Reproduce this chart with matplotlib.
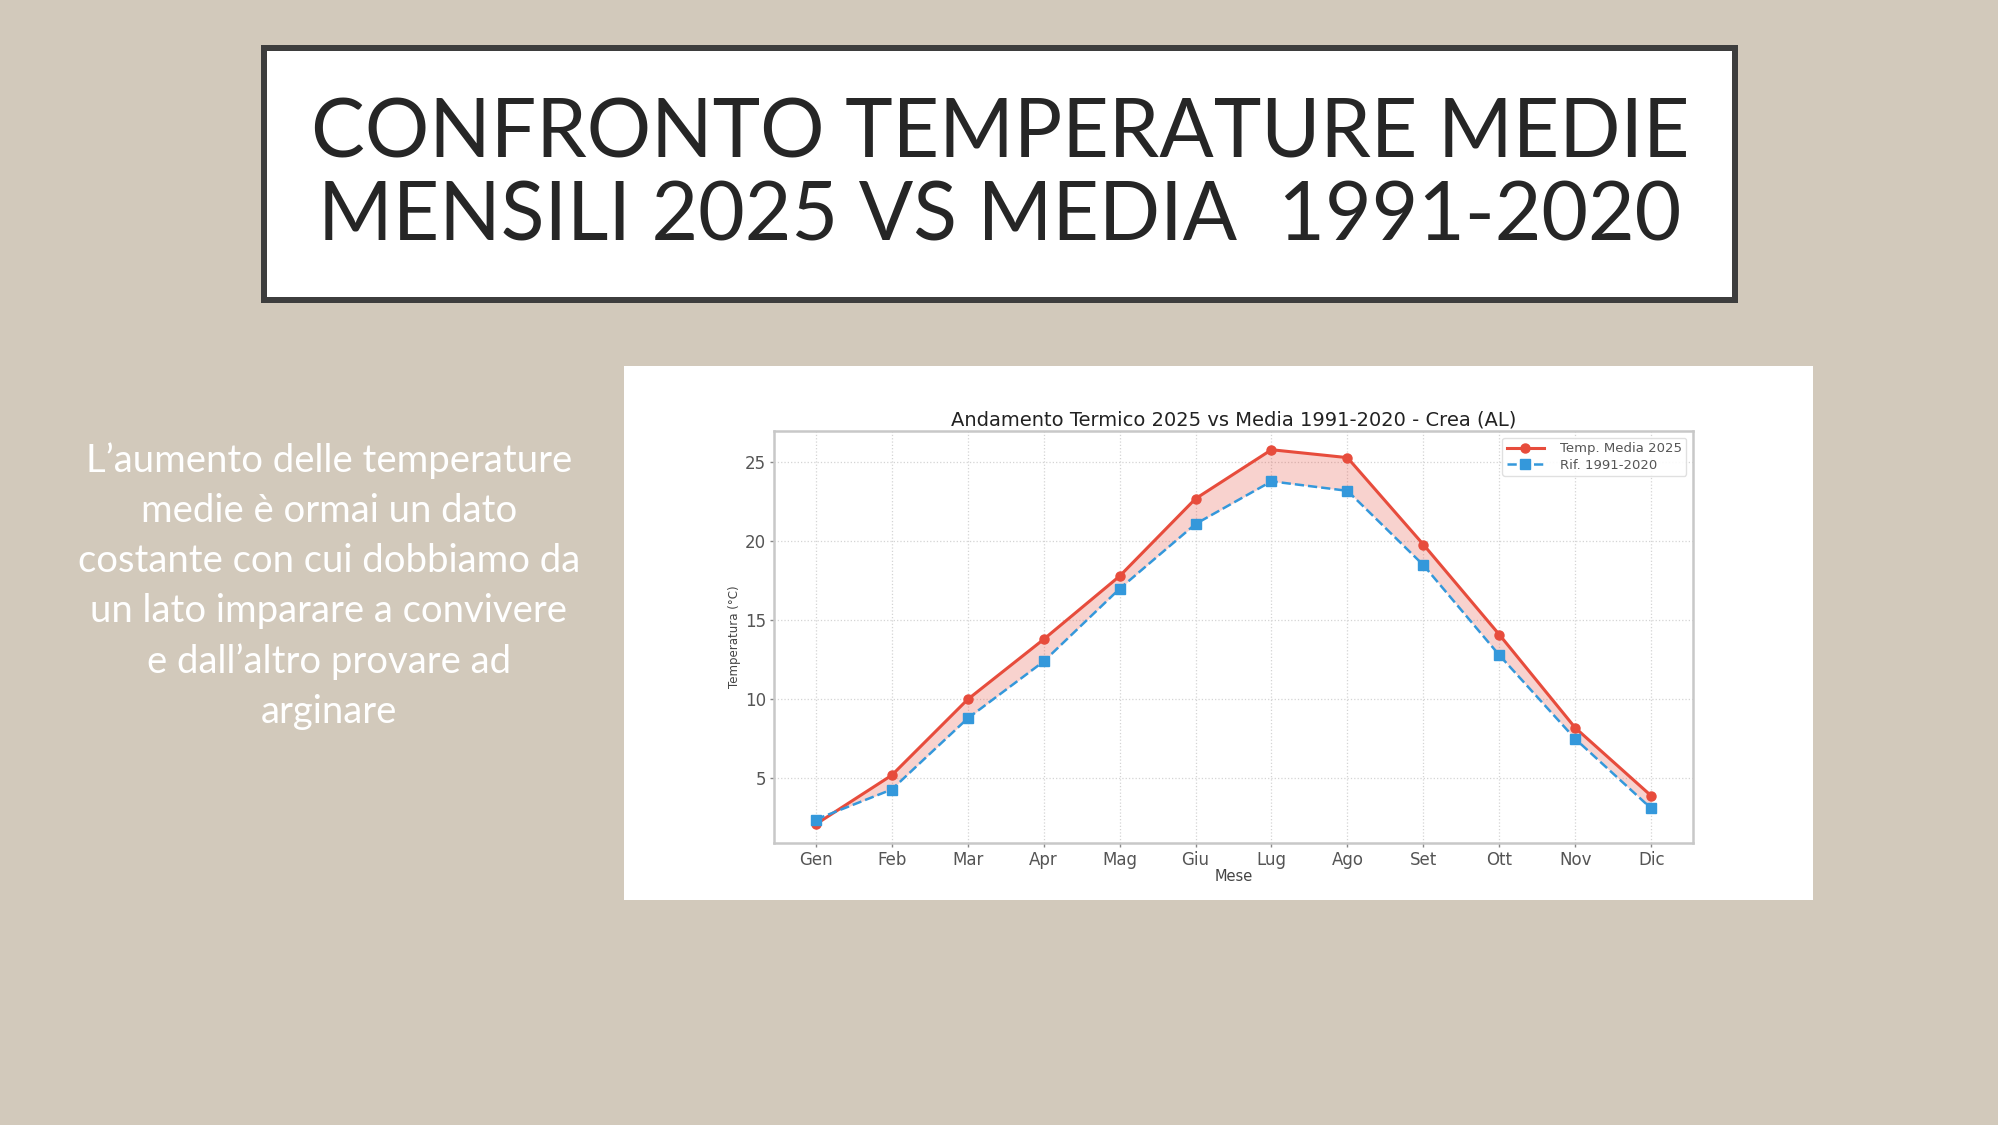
import matplotlib
matplotlib.use("Agg")
import matplotlib.pyplot as plt
from matplotlib.patches import Rectangle
import numpy as np

W, H = 1999, 1125

months = ['Gen', 'Feb', 'Mar', 'Apr', 'Mag', 'Giu', 'Lug', 'Ago', 'Set', 'Ott', 'Nov', 'Dic']
temp_2025 = [2.1, 5.2, 10.0, 13.8, 17.8, 22.7, 25.8, 25.3, 19.8, 14.1, 8.2, 3.9]
rif_1991_2020 = [2.4, 4.3, 8.8, 12.4, 17.0, 21.1, 23.8, 23.2, 18.5, 12.8, 7.5, 3.1]

slide_title = "CONFRONTO TEMPERATURE MEDIE\nMENSILI 2025 VS MEDIA  1991-2020"
side_text = ("L’aumento delle temperature\nmedie è ormai un dato\ncostante con cui dobbiamo da\n"
             "un lato imparare a convivere\ne dall’altro provare ad\narginare")
chart_title = "Andamento Termico 2025 vs Media 1991-2020 - Crea (AL)"

RED = '#e74c3c'
BLUE = '#3498db'
BG = '#d2c9bb'

fig = plt.figure(figsize=(W / 100, H / 100), dpi=100, facecolor=BG)


def fx(px):
    return px / W


def fy(py):
    return 1 - py / H


# Title box
fig.patches.append(Rectangle((fx(264), fy(300)), fx(1735) - fx(264), fy(48) - fy(300),
                             transform=fig.transFigure, facecolor='white',
                             edgecolor='#3d3d3d', linewidth=6 * 72 / 100, zorder=0))
fig.text(fx(1000), fy(176), slide_title, ha='center', va='center', fontsize=58,
         family='Lato', color='#262626', linespacing=1.16, zorder=1)

# Side text
fig.text(fx(329), fy(586), side_text, ha='center', va='center', fontsize=27.5,
         family='Lato', color='white', linespacing=1.48, zorder=1)

# Chart white background
fig.patches.append(Rectangle((fx(624), fy(900)), fx(1813) - fx(624), fy(366) - fy(900),
                             transform=fig.transFigure, facecolor='white',
                             edgecolor='none', zorder=0))

ax = fig.add_axes([fx(774), fy(843), fx(1693) - fx(774), fy(431) - fy(843)])
ax.set_zorder(5)
ax.set_facecolor('white')
x = np.arange(len(months))
t = np.array(temp_2025)
r = np.array(rif_1991_2020)
ax.plot(x, t, color=RED, marker='o', lw=2.2, ms=6.5, label='Temp. Media 2025', zorder=3)
ax.plot(x, r, color=BLUE, marker='s', lw=1.8, ms=7, ls='--', label='Rif. 1991-2020', zorder=3)
ax.fill_between(x, t, r, where=t >= r, interpolate=True, color=RED, alpha=0.25, lw=0, zorder=2)

ax.set_xticks(x)
ax.set_xticklabels(months)
ax.set_yticks([5, 10, 15, 20, 25])
ax.tick_params(colors='#555555', labelsize=12, length=3, width=1, color='#888888', pad=2.5)
ax.grid(True, ls=':', color='#d4d4d4', lw=0.9)
for s in ax.spines.values():
    s.set_color('#c8c8c8')
    s.set_linewidth(1.8)
ax.set_title(chart_title, fontsize=14, color='#222222', pad=4)
ax.set_xlabel('Mese', fontsize=10.5, color='#444444', labelpad=0)
ax.set_ylabel('Temperatura (°C)', fontsize=8.5, color='#444444', labelpad=3)
leg = ax.legend(loc='upper right', fontsize=9.5, framealpha=0.9, edgecolor='#dddddd',
                labelspacing=0.25, borderpad=0.35, handlelength=2.8, handletextpad=1.2)
for txt in leg.get_texts():
    txt.set_color('#555555')

fig.savefig('out.png', dpi=100, facecolor=BG)
